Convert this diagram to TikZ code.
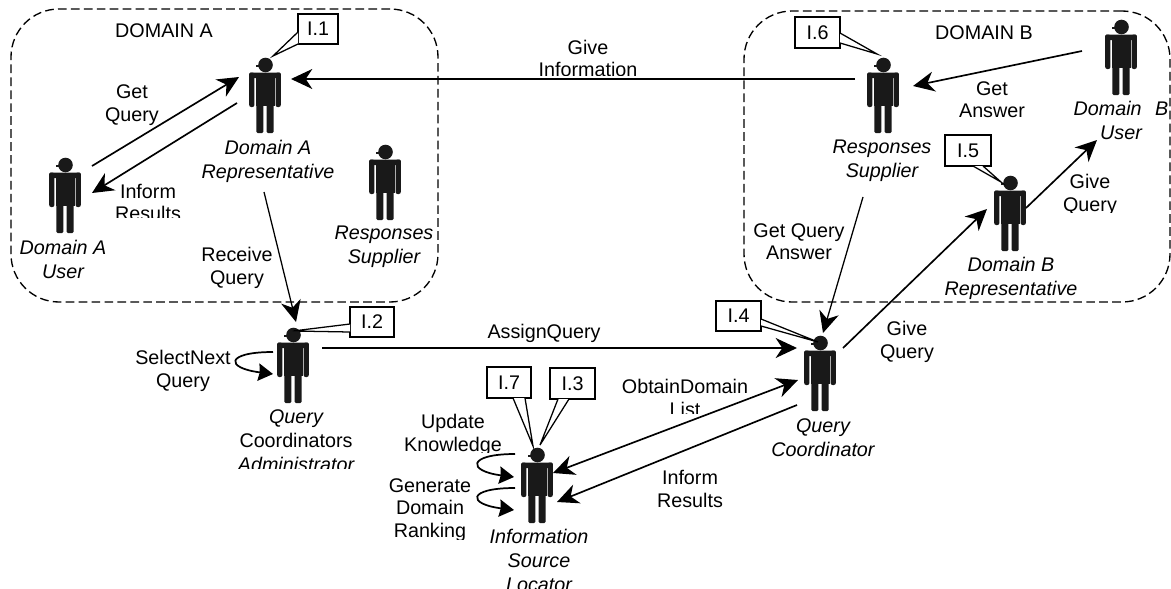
\documentclass[tikz,border=0pt]{standalone}
\usepackage{fontspec}
\setmainfont{Liberation Sans}
\usetikzlibrary{arrows.meta,calc}
\tikzset{
  domainbox/.style={draw,line width=1pt,dash pattern=on 6.5pt off 3.2pt,rounded corners=36pt},
  persnode/.style={inner sep=0pt,outer sep=0pt,minimum width=23pt,minimum height=56pt},
  lab/.style={inner sep=0pt,outer sep=0pt,align=center,yshift=-0.8pt,font=\fontsize{14.8}{17}\selectfont},
  rolelab/.style={inner sep=0pt,outer sep=0pt,align=center,yshift=-0.8pt,font=\fontsize{14.8}{18}\selectfont\itshape},
  conn/.style={line width=1.25pt,-{Stealth[length=16pt,width=15pt,inset=5pt]}},
  connboth/.style={line width=1.25pt,{Stealth[length=16pt,width=15pt,inset=5pt]}-{Stealth[length=16pt,width=15pt,inset=5pt]}},
  thinconn/.style={conn,line width=0.95pt},
  loopconn/.style={line width=1.3pt,-{Stealth[length=11pt,width=13pt,inset=1pt]}},
  refbox/.style={draw,line width=1.1pt,fill=white,inner sep=0pt,font=\fontsize{14.8}{17}\selectfont,minimum width=#1},
  refbox/.default=33pt,
  refline/.style={draw,line width=0.95pt,fill=white},
}
\newcommand{\person}[3]{%
  \node[persnode] (#1) at (#2,#3) {};
  \begin{scope}[shift={(#1.center)}]
    \fill[black!90] (0.5,-31) circle[radius=7.3];
    \fill[black!90] (-9,-31.5) rectangle (-4,-29.5);
    \fill[black!90,rounded corners=1.5pt] (-15.8,11) rectangle (-10.6,-23.5);
    \fill[black!90,rounded corners=1.5pt] (15.8,11) rectangle (10.6,-23.5);
    \fill[black!90,rounded corners=1pt] (-15.8,-18) -- (-15.8,-23.5) -- (15.8,-23.5) -- (15.8,-18) -- cycle;
    \fill[black!90] (-9.5,-23.5) rectangle (9.5,10);
    \fill[black!90,rounded corners=1pt] (-8.7,8) rectangle (-1.6,37);
    \fill[black!90,rounded corners=1pt] (1.6,8) rectangle (8.7,37);
  \end{scope}}
\newcommand{\cliplab}[6]{% name, style, x, y, clip y, text
  \begin{scope}
    \clip (#3-120,#4-60) rectangle (#3+120,#5);
    \node[#2] (#1) at (#3,#4) {#6};
  \end{scope}}
\begin{document}
\begin{tikzpicture}[x=0.75pt,y=-0.75pt]
\useasboundingbox (0,0) rectangle (1171,589);
% domains
\node[domainbox,minimum width=320.25pt,minimum height=219.75pt,inner sep=0pt] (doma) at (224.5,155.5) {};
\node[domainbox,minimum width=319.5pt,minimum height=218.25pt,inner sep=0pt] (domb) at (957,156.5) {};
\node[lab] (tdoma) at (164,30) {DOMAIN A};
\node[lab] (tdomb) at (984,32) {DOMAIN B};
% persons
\person{arep}{265}{96}
\person{auser}{65}{196}
\person{ars}{385}{183}
\person{qca}{293}{366}
\person{isl}{537}{486}
\person{qc}{820}{374}
\person{brep}{1010}{214}
\person{brs}{883}{96}
\person{buser}{1121}{58}
% role labels
\node[rolelab] (lauser) at (63,258.5) {Domain A\\User};
\node[rolelab] (larep) at (268,160) {Domain A\\Representative};
\node[rolelab] (lars) at (384,246) {Responses\\Supplier};
\node[rolelab] (lbrs) at (882,159.5) {Responses\\Supplier};
\node[rolelab] (lbuser) at (1121,119.5) {Domain\hspace{6pt} B\\User};
\node[rolelab] (lbrep) at (1011,277.5) {Domain B\\Representative};
\node[rolelab] (lqc) at (823,437) {Query\\Coordinator};
\cliplab{lqca}{rolelab}{296}{439.5}{468}{Query\\{\upshape Coordinators}\\Administrator}
\cliplab{lisl}{rolelab}{539}{559.5}{589}{Information\\Source\\Locator}
% action labels
\node[lab] (lgq) at (132,104) {Get\\Query};
\cliplab{lir}{lab}{148}{201.5}{217}{Inform\\Results}
\node[lab] (lrq) at (237,266.5) {Receive\\Query};
\node[lab] (lga) at (992,98.5) {Get\\Answer};
\cliplab{lgq2}{lab}{1090}{193.5}{212}{Give\\Query}
\node[lab] (lgqa) at (799,240.5) {Get Query\\Answer};
\node[lab] (lgq3) at (907,340.5) {Give\\Query};
\node[lab] (laq) at (544,332) {AssignQuery};
\node[lab] (lsn) at (183,370) {SelectNext\\Query};
\cliplab{luk}{lab}{453}{433.5}{452}{Update\\Knowledge}
\cliplab{lgr}{lab}{430}{509}{539}{Generate\\Domain\\Ranking}
\cliplab{lod}{lab}{685}{397}{413}{ObtainDomain\\List}
\node[lab] (lir2) at (690,488) {Inform\\Results};
\cliplab{lgi}{lab}{588}{57.5}{75}{Give\\Information}
% connectors
\draw[conn] ($(auser)+(27,-30)$) -- ($(arep)+(-26,-19)$);
\draw[conn] ($(arep)+(-28,7)$) -- ($(auser)+(27,-3)$);
\draw[conn] ($(brs)+(-28,-17)$) -- ($(arep)+(26,-17)$);
\draw[thinconn] ($(arep)+(-1,96)$) -- ($(qca)+(3,-44)$);
\draw[conn] ($(buser)+(-39,-7)$) -- ($(brs)+(30,-10)$);
\draw[thinconn] ($(brs)+(-20,101)$) -- ($(qc)+(3,-41)$);
\draw[conn] ($(qc)+(23,-26)$) -- ($(brep)+(-23,-5)$);
\draw[conn] ($(brep)+(16,-6)$) -- ($(buser)+(-24,82)$);
\draw[conn] ($(qca)+(29,-18)$) -- ($(qc)+(-23,-26)$);
\draw[connboth] ($(isl)+(16,-13)$) -- ($(qc)+(-22,6)$);
\draw[conn] ($(qc)+(-23,31)$) -- ($(isl)+(20,16)$);
\draw[loopconn] ($(qca)+(-20,-14)$) .. controls ($(qca)+(-68,-14)$) and ($(qca)+(-68,2)$) .. ($(qca)+(-20,8)$);
\draw[loopconn] ($(isl)+(-22,-32)$) .. controls ($(isl)+(-70,-32)$) and ($(isl)+(-70,-15)$) .. ($(isl)+(-23,-9)$);
\draw[loopconn] ($(isl)+(-22,2)$) .. controls ($(isl)+(-70,2)$) and ($(isl)+(-70,18)$) .. ($(isl)+(-23,24)$);
% reference callouts
\node[refbox=30pt,minimum height=22.5pt] (i1) at (318,29) {I.1};
\node[refbox=33pt,minimum height=22.5pt] (i2) at (372,322) {I.2};
\node[refbox=33.75pt,minimum height=23.25pt] (i3) at (572.5,383.5) {I.3};
\node[refbox=33.75pt,minimum height=22.5pt] (i4) at (738.5,316) {I.4};
\node[refbox=34.5pt,minimum height=23.25pt] (i5) at (968,150.5) {I.5};
\node[refbox=33.75pt,minimum height=23.25pt] (i6) at (817.5,32.5) {I.6};
\node[refbox=33pt,minimum height=23.25pt] (i7) at (509,382.5) {I.7};
\path[refline] ($(i1)+(-20,3)$) -- ($(arep)+(8,-40)$) -- ($(i1)+(-20,15)$);
\path[refline] ($(i2)+(-22,2)$) -- ($(qca)+(0,-35)$) -- ($(i2)+(-22,10)$);
\path[refline] ($(i3)+(-14.5,15.5)$) -- ($(isl)+(3,-41)$) -- ($(i3)+(-3.5,15.5)$);
\path[refline] ($(i4)+(22.5,3)$) -- ($(qc)+(-2,-32)$) -- ($(i4)+(22.5,10)$);
\path[refline] ($(i5)+(5,15.5)$) -- ($(brep)+(-9,-32)$) -- ($(i5)+(15,15.5)$);
\path[refline] ($(i6)+(22.5,0.5)$) -- ($(brs)+(-6,-42)$) -- ($(i6)+(22.5,10.5)$);
\path[refline] ($(i7)+(4,15.5)$) -- ($(isl)+(-4,-40)$) -- ($(i7)+(16,15.5)$);
\end{tikzpicture}
\end{document}
